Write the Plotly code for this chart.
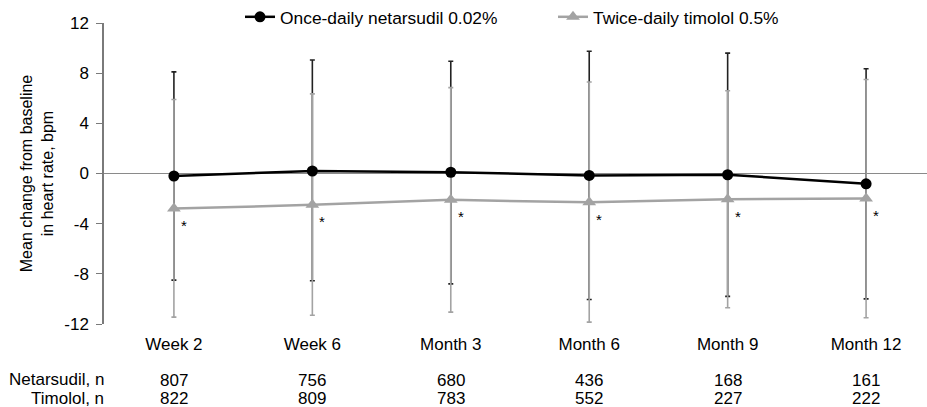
import plotly.graph_objects as go

categories = ["Week 2", "Week 6", "Month 3", "Month 6", "Month 9", "Month 12"]
netarsudil_mean = [-0.2, 0.2, 0.1, -0.15, -0.1, -0.82]
netarsudil_upper = [8.1, 9.05, 8.95, 9.75, 9.6, 8.35]
netarsudil_lower = [-8.5, -8.55, -8.8, -10.05, -9.8, -10.0]
timolol_mean = [-2.8, -2.5, -2.1, -2.3, -2.05, -2.0]
timolol_upper = [5.9, 6.35, 6.85, 7.3, 6.6, 7.5]
timolol_lower = [-11.45, -11.3, -11.05, -11.85, -10.7, -11.5]
netarsudil_n = [807, 756, 680, 436, 168, 161]
timolol_n = [822, 809, 783, 552, 227, 222]
yticks = [12, 8, 4, 0, -4, -8, -12]

FONT = "Liberation Sans, Arial, sans-serif"
GREY = "#a3a3a3"
FS = 17

W, H = 927, 407
plot_l, plot_r, plot_t, plot_b = 104, 927, 23, 324
pw, ph = plot_r - plot_l, plot_b - plot_t


def px_x(p):
    return (p - plot_l) / pw


def px_y(p):
    return (plot_b - p) / ph


x = list(range(len(categories)))

fig = go.Figure()
# Netarsudil error bars (drawn first, underneath)
fig.add_trace(go.Scatter(
    x=x, y=netarsudil_mean, mode="markers", marker=dict(size=1, color="rgba(0,0,0,0)"),
    showlegend=False, hoverinfo="skip",
    error_y=dict(type="data", symmetric=False,
                 array=[u - m for u, m in zip(netarsudil_upper, netarsudil_mean)],
                 arrayminus=[m - l for l, m in zip(netarsudil_lower, netarsudil_mean)],
                 color="#222222", thickness=1.6, width=2.5)))
# Timolol
fig.add_trace(go.Scatter(
    x=x, y=timolol_mean, mode="lines+markers", name="Twice-daily timolol 0.5%",
    line=dict(color=GREY, width=2.5),
    marker=dict(symbol="triangle-up", size=12, color=GREY),
    legend="legend2",
    error_y=dict(type="data", symmetric=False,
                 array=[u - m for u, m in zip(timolol_upper, timolol_mean)],
                 arrayminus=[m - l for l, m in zip(timolol_lower, timolol_mean)],
                 color=GREY, thickness=1.6, width=2.5)))
# Netarsudil line and markers on top
fig.add_trace(go.Scatter(
    x=x, y=netarsudil_mean, mode="lines+markers", name="Once-daily netarsudil 0.02%",
    line=dict(color="#000000", width=2.5),
    marker=dict(symbol="circle", size=11, color="#000000"),
    legend="legend"))

annotations = []
for i in x:
    annotations.append(dict(x=i, y=timolol_mean[i], xref="x", yref="y", text="*",
                            showarrow=False, xshift=10, yshift=-17,
                            font=dict(family=FONT, size=15, color="#000")))
for i in x:
    annotations.append(dict(x=i, y=0, xref="x", yref="paper", text=str(netarsudil_n[i]),
                            showarrow=False, yshift=-56, yanchor="middle",
                            font=dict(family=FONT, size=FS, color="#000")))
    annotations.append(dict(x=i, y=0, xref="x", yref="paper", text=str(timolol_n[i]),
                            showarrow=False, yshift=-74, yanchor="middle",
                            font=dict(family=FONT, size=FS, color="#000")))
annotations.append(dict(x=px_x(106), y=px_y(380), xref="paper", yref="paper",
                        text="Netarsudil, n", showarrow=False, xanchor="right",
                        yanchor="middle", font=dict(family=FONT, size=FS, color="#000")))
annotations.append(dict(x=px_x(106), y=px_y(398), xref="paper", yref="paper",
                        text="Timolol, n", showarrow=False, xanchor="right",
                        yanchor="middle", font=dict(family=FONT, size=FS, color="#000")))

legend_common = dict(orientation="h", yanchor="middle", y=px_y(17), xanchor="left",
                     font=dict(family=FONT, size=17.4), bgcolor="rgba(0,0,0,0)",
                     borderwidth=0)

fig.update_layout(
    width=W, height=H,
    margin=dict(l=plot_l, r=W - plot_r, t=plot_t, b=H - plot_b, pad=0, autoexpand=False),
    paper_bgcolor="white", plot_bgcolor="white",
    font=dict(family=FONT, size=FS, color="#000"),
    showlegend=True,
    legend=dict(x=px_x(240), **legend_common),
    legend2=dict(x=px_x(553), **legend_common),
    annotations=annotations,
    xaxis=dict(range=[-0.505, 5.44], tickvals=x, ticktext=categories, automargin=False,
               showgrid=False, zeroline=False, showline=False, ticks="",
               ticklabelstandoff=8, tickfont=dict(family=FONT, size=FS)),
    yaxis=dict(range=[-12, 12], tickvals=yticks, ticktext=[str(v) for v in yticks],
               automargin=False,
               showgrid=False, zeroline=True, zerolinecolor="#8a8a8a", zerolinewidth=1,
               showline=True, linecolor="#7a7a7a", linewidth=1.5,
               ticks="outside", ticklen=6, tickcolor="#7a7a7a",
               ticklabelstandoff=4,
               tickfont=dict(family=FONT, size=FS),
               title=dict(text="Mean change from baseline<br>in heart rate, bpm",
                          font=dict(family=FONT, size=16), standoff=7)),
)

fig.write_html("out.html", config={"displayModeBar": False},
               post_script="document.body.style.margin='0';document.body.style.overflow='hidden';")
